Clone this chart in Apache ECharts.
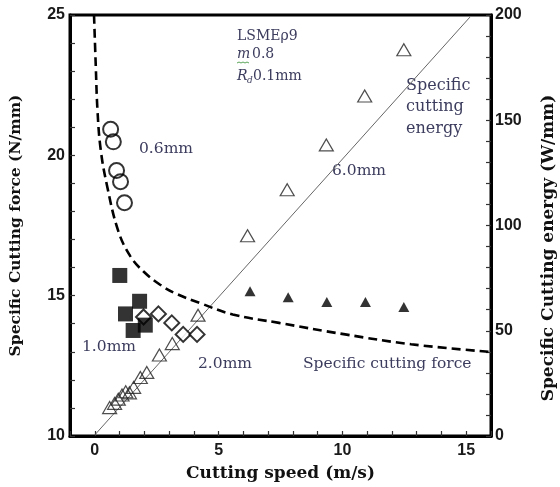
<!DOCTYPE html>
<html>
<head>
<meta charset="utf-8">
<script src="https://cdn.jsdelivr.net/npm/echarts@6/dist/echarts.min.js"></script>
<style>html,body{margin:0;padding:0;background:#fff}#c{width:560px;height:487px}</style>
</head>
<body>
<div id="c"></div>
<script>
// Data (x: cutting speed m/s)
const circles06 = [[0.64, 20.93], [0.75, 20.48], [0.88, 19.46], [1.04, 19.06], [1.2, 18.31]];
const squares10 = [[1.01, 15.72], [1.81, 14.8], [1.24, 14.35], [1.55, 13.76], [2.04, 13.95]];
const diamonds20 = [[1.97, 14.24], [2.57, 14.35], [3.11, 14.03], [3.57, 13.62], [4.13, 13.62]];
const filledTri60 = [[6.27, 15.16], [7.81, 14.94], [9.37, 14.77], [10.93, 14.77], [12.48, 14.6]];
const energyTri = [[0.6, 13.5], [0.8, 15.5], [0.95, 17.5], [1.1, 19.5], [1.25, 21], [1.4, 20.5],
  [1.57, 23.1], [1.84, 27.8], [2.1, 30.2], [2.61, 38.5], [3.13, 43.9], [4.17, 57.4],
  [6.17, 95.1], [7.77, 117], [9.35, 138.3], [10.9, 161.5], [12.48, 183.5]];
const energyLine = [[0, 0.5], [15.15, 199]];
const forceCurve = [[-0.03, 25], [0.04, 23.2], [0.11, 21.6], [0.24, 20.2], [0.5, 18.9], [0.95, 17.3],
  [1.44, 16.4], [1.97, 15.86], [2.64, 15.39], [3.31, 15.06], [4.24, 14.74], [5.57, 14.33],
  [7.44, 14.03], [10.11, 13.62], [12.77, 13.27], [15.9, 13.0]];
const xTickLabels = [0, 5, 10, 15];
const yLeftTickLabels = [10, 15, 20, 25];
const yRightTickLabels = [0, 50, 100, 150, 200];

const chart = echarts.init(document.getElementById('c'));
const tickFont = {fontFamily: 'Liberation Sans', fontWeight: 'bold', fontSize: 16, color: '#1a1a1a'};
const titleFont = size => ({fontFamily: 'DejaVu Serif', fontWeight: 'bold', fontSize: size, color: '#111'});
const annColor = '#3c3c5e';
const ann = (x, y, text, size) => ({
  type: 'text', left: x, top: y,
  style: {text: text, fill: annColor, font: (size || 15.5) + 'px "DejaVu Serif"'}
});

chart.setOption({
  animation: false,
  grid: {left: 69, right: 69, top: 15, bottom: 48, show: true, borderColor: '#000', borderWidth: 3},
  xAxis: {
    type: 'value', min: -1, max: 16, interval: 1,
    name: 'Cutting speed (m/s)', nameLocation: 'middle', nameGap: 29, nameTextStyle: titleFont(17),
    axisLine: {onZero: false, lineStyle: {color: '#000', width: 3}},
    axisTick: {inside: true, length: 5, lineStyle: {color: '#333', width: 1.2}},
    axisLabel: Object.assign({margin: 7, formatter: v => xTickLabels.includes(v) ? String(v) : ''}, tickFont),
    splitLine: {show: false}
  },
  yAxis: [{
    type: 'value', min: 10, max: 25, interval: 1,
    name: 'Specific Cutting force (N/mm)', nameLocation: 'middle', nameGap: 46, nameRotate: 90,
    nameTextStyle: titleFont(15.5),
    axisLine: {show: true, onZero: false, lineStyle: {color: '#000', width: 3}},
    axisTick: {inside: true, length: 5, lineStyle: {color: '#333', width: 1.2}},
    axisLabel: Object.assign({margin: 5, formatter: v => yLeftTickLabels.includes(v) ? String(v) : ''}, tickFont),
    splitLine: {show: false}
  }, {
    type: 'value', min: 0, max: 200, interval: 10, position: 'right',
    axisLine: {show: true, onZero: false, lineStyle: {color: '#000', width: 3}},
    axisTick: {inside: true, length: 5, lineStyle: {color: '#333', width: 1.2}},
    axisLabel: Object.assign({margin: 4, formatter: v => yRightTickLabels.includes(v) ? String(v) : ''}, tickFont),
    splitLine: {show: false}
  }],
  series: [
    {type: 'line', data: energyLine, yAxisIndex: 1, symbol: 'none', lineStyle: {color: '#666', width: 1}, z: 1},
    {type: 'line', data: forceCurve, smooth: 0.4, symbol: 'none', lineStyle: {color: '#000', width: 2.6, type: [9, 5]}, z: 2},
    {type: 'scatter', data: energyTri, yAxisIndex: 1, symbol: 'triangle', symbolSize: [14, 12],
      itemStyle: {color: 'rgba(255,255,255,0)', borderColor: '#222', borderWidth: 1.2}, z: 3},
    {type: 'scatter', data: circles06, symbol: 'circle', symbolSize: 15,
      itemStyle: {color: 'rgba(255,255,255,0)', borderColor: '#000', borderWidth: 2}, z: 3},
    {type: 'scatter', data: diamonds20, symbol: 'diamond', symbolSize: [15, 15],
      itemStyle: {color: '#fff', borderColor: '#000', borderWidth: 2}, z: 3},
    {type: 'scatter', data: squares10, symbol: 'rect', symbolSize: 15,
      itemStyle: {color: '#000'}, z: 4},
    {type: 'scatter', data: filledTri60, symbol: 'triangle', symbolSize: [11, 10],
      itemStyle: {color: '#000'}, z: 4}
  ],
  graphic: [
    {type: 'text', x: 549, y: 248, rotation: Math.PI / 2,
      style: {text: 'Specific Cutting energy (W/mm)', fill: '#111', font: 'bold 17px "DejaVu Serif"',
        align: 'center', verticalAlign: 'middle'}},
    ann(237, 29, 'LSMEρ9', 14),
    {type: 'text', left: 237, top: 47, style: {text: 'm', fill: annColor, font: 'italic 14px "DejaVu Serif"'}},
    {type: 'polyline', shape: {points: [[237, 63], [239, 62], [241, 63], [243, 62], [245, 63], [247, 62], [249, 63]]},
      style: {stroke: '#5aa55a', lineWidth: 1, fill: null}},
    ann(252, 47, '0.8', 14),
    {type: 'text', left: 237, top: 69, style: {text: 'R', fill: annColor, font: 'italic 14px "DejaVu Serif"'}},
    {type: 'text', left: 247, top: 76, style: {text: 'd', fill: annColor, font: 'italic 9px "DejaVu Serif"'}},
    ann(253, 69, '0.1mm', 14),
    ann(139, 141, '0.6mm'),
    ann(82, 339, '1.0mm'),
    ann(198, 356, '2.0mm'),
    ann(332, 163, '6.0mm'),
    ann(406, 78, 'Specific', 16),
    ann(406, 99, 'cutting', 16),
    ann(406, 121, 'energy', 16),
    ann(303, 356, 'Specific cutting force')
  ]
});
</script>
</body>
</html>
